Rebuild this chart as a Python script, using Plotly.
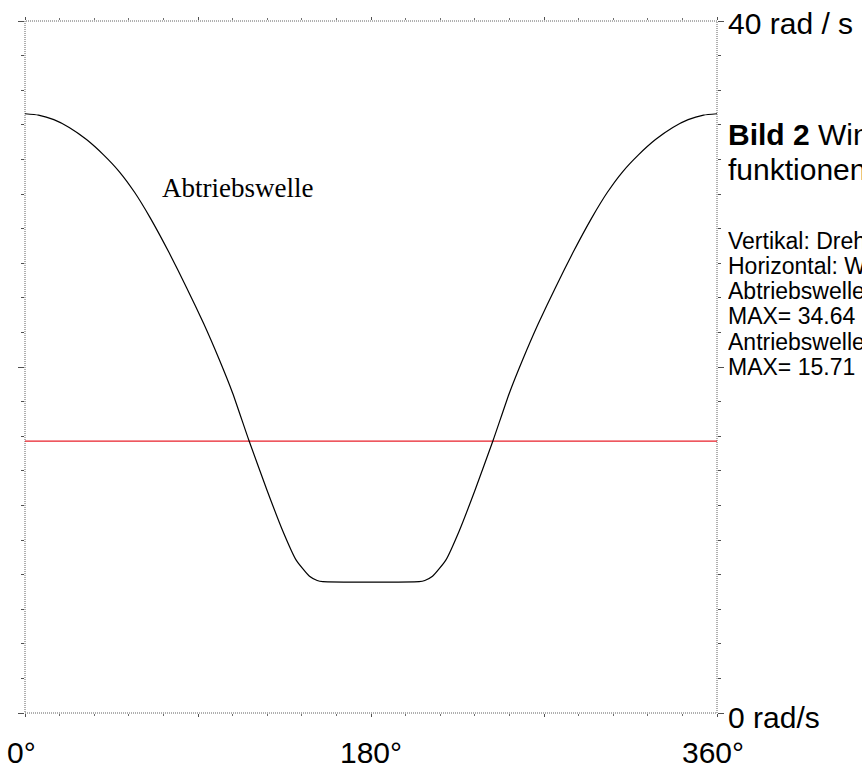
import plotly.graph_objects as go

# Angle of the input shaft (degrees)
angle_deg = [0, 7, 15, 23, 32, 41, 49, 57, 65, 75, 84, 93, 101, 108, 116.5,
             126, 134, 141, 148, 152, 155, 205, 208, 212, 219, 226, 234, 243.5,
             252, 259, 267, 276, 285, 295, 303, 311, 319, 328, 337, 345, 353, 360]
# Angular velocity of the output shaft (rad/s)
abtrieb = [34.64, 34.56, 34.30, 33.85, 33.15, 32.25, 31.30, 30.10, 28.65, 26.60,
           24.60, 22.50, 20.45, 18.50, 15.75, 12.85, 10.55, 8.85, 7.90, 7.66, 7.59,
           7.59, 7.66, 7.90, 8.85, 10.55, 12.85, 15.75, 18.50, 20.45, 22.50, 24.60,
           26.60, 28.65, 30.10, 31.30, 32.25, 33.15, 33.85, 34.30, 34.56, 34.64]
# Input shaft angular velocity (constant)
antrieb_angle = [0, 360]
antrieb = [15.71, 15.71]

x_tick_vals = [0, 180, 360]
x_tick_text = ["0°", "180°", "360°"]
y_range = [0, 40]
y_top_label = "40 rad / s"
y_bottom_label = "0 rad/s"
curve_label = "Abtriebswelle"
title_lines = ["<b>Bild 2</b> Winkelgeschwindigkeits-", "funktionen"]
info_lines = ["Vertikal: Drehgeschwindigkeit", "Horizontal: Winkel der Antriebswelle",
              "Abtriebswelle (schwarz)", "MAX= 34.64 rad/s",
              "Antriebswelle (rot)", "MAX= 15.71 rad/s"]

fig = go.Figure()
fig.add_trace(go.Scatter(x=antrieb_angle, y=antrieb, mode="lines",
                         line=dict(color="#e8202a", width=1.3), hoverinfo="skip"))
fig.add_trace(go.Scatter(x=angle_deg, y=abtrieb, mode="lines",
                         line=dict(color="black", width=1.2, shape="spline", smoothing=0.5),
                         hoverinfo="skip"))

# dotted frame
fig.add_shape(type="rect", xref="paper", yref="paper", x0=0, y0=0, x1=1, y1=1,
              line=dict(color="#606060", width=1, dash="1px,1px"), layer="below")

sans = "Liberation Sans, Arial, sans-serif"
ann = []
ann.append(dict(xref="paper", yref="y", x=1, y=y_range[1], text=y_top_label, showarrow=False,
                xanchor="left", yanchor="middle", xshift=9, yshift=-2,
                font=dict(family=sans, size=30, color="black")))
ann.append(dict(xref="paper", yref="y", x=1, y=y_range[0], text=y_bottom_label, showarrow=False,
                xanchor="left", yanchor="middle", xshift=9, yshift=-4,
                font=dict(family=sans, size=30, color="black")))
for v, t in zip(x_tick_vals, x_tick_text):
    ann.append(dict(xref="x", yref="paper", x=v, y=0, text=t, showarrow=False,
                    xanchor="center", yanchor="middle", yshift=-39,
                    xshift=(-4 if v != 180 else 0),
                    font=dict(family=sans, size=30, color="black")))
ann.append(dict(xref="x", yref="y", x=110.8, y=30.35, text=curve_label, showarrow=False,
                xanchor="center", yanchor="middle",
                font=dict(family="Liberation Serif, Times New Roman, serif", size=27, color="black")))
for yp, t in zip([0.8367, 0.7847], title_lines):
    ann.append(dict(xref="paper", yref="paper", x=1, y=yp, text=t, showarrow=False,
                    xanchor="left", yanchor="middle", xshift=9,
                    font=dict(family=sans, size=30, color="black")))
for yp, t in zip([0.682, 0.646, 0.6098, 0.5737, 0.5361, 0.5], info_lines):
    ann.append(dict(xref="paper", yref="paper", x=1, y=yp, text=t, showarrow=False,
                    xanchor="left", yanchor="middle", xshift=9, height=24,
                    font=dict(family=sans, size=23, color="black")))

fig.update_layout(
    width=862, height=774,
    margin=dict(l=25, r=145, t=21, b=61),
    paper_bgcolor="white", plot_bgcolor="white",
    showlegend=False,
    annotations=ann,
    xaxis=dict(range=[0, 360], showgrid=False, zeroline=False, showline=False,
               showticklabels=False, ticks="outside", tickvals=[0, 90, 180, 270, 360],
               ticklen=3, tickcolor="#505050", mirror="ticks",
               minor=dict(dtick=18, ticks="outside", ticklen=2, tickcolor="#707070")),
    yaxis=dict(range=y_range, showgrid=False, zeroline=False, showline=False,
               showticklabels=False, ticks="outside", tickvals=[0, 20, 40],
               ticklen=6, tickcolor="#505050", mirror="ticks",
               minor=dict(dtick=2, ticks="outside", ticklen=3, tickcolor="#505050")),
)

fig.write_html("out.html")
